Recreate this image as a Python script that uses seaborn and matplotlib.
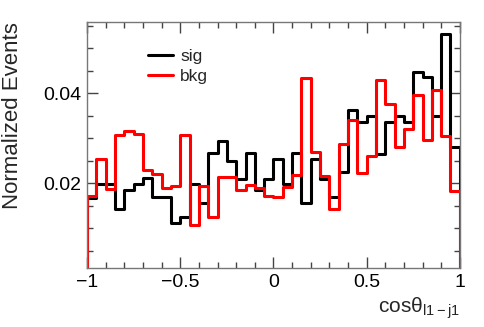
import numpy as np
import pandas as pd
import matplotlib
matplotlib.use('Agg')
import matplotlib.pyplot as plt
import seaborn as sns
from matplotlib.ticker import MultipleLocator

# 40 bins of cos(theta) between -1 and 1
bin_edges = np.linspace(-1, 1, 41)
bin_centers = 0.5 * (bin_edges[:-1] + bin_edges[1:])

sig = [0.0167, 0.0199, 0.0199, 0.0142, 0.0184, 0.0199, 0.0212, 0.0168, 0.0168, 0.0112,
       0.0125, 0.0198, 0.0155, 0.0267, 0.0293, 0.0250, 0.0210, 0.0267, 0.0184, 0.0210,
       0.0253, 0.0197, 0.0266, 0.0155, 0.0253, 0.0210, 0.0170, 0.0224, 0.0362, 0.0336,
       0.0349, 0.0264, 0.0336, 0.0349, 0.0336, 0.0447, 0.0435, 0.0349, 0.0531, 0.0281]

bkg = [0.0172, 0.0253, 0.0187, 0.0307, 0.0316, 0.0310, 0.0229, 0.0220, 0.0190, 0.0193,
       0.0307, 0.0107, 0.0193, 0.0124, 0.0213, 0.0213, 0.0184, 0.0196, 0.0190, 0.0172,
       0.0170, 0.0192, 0.0219, 0.0434, 0.0268, 0.0216, 0.0142, 0.0286, 0.0340, 0.0223,
       0.0260, 0.0430, 0.0375, 0.0281, 0.0319, 0.0396, 0.0296, 0.0407, 0.0304, 0.0182]

series = [('sig', sig, 'black'), ('bkg', bkg, '#ff0000')]

sns.set_style('ticks')
plt.rcParams['font.family'] = ['Liberation Sans', 'DejaVu Sans']
plt.rcParams['mathtext.fontset'] = 'custom'
plt.rcParams['mathtext.rm'] = 'Liberation Sans'
plt.rcParams['mathtext.it'] = 'Liberation Sans:italic'

fig, ax = plt.subplots(figsize=(4.84, 3.27), dpi=100)
fig.subplots_adjust(left=0.180, right=0.950, bottom=0.180, top=0.933)

for name, vals, col in series:
    df = pd.DataFrame({'x': bin_centers, 'w': vals})
    sns.histplot(data=df, x='x', weights='w', bins=list(bin_edges), element='step',
                 fill=False, color=col, linewidth=2.2, label=name, ax=ax)
    # ROOT-style drop to zero at both ends of the histogram
    ax.vlines([bin_edges[0], bin_edges[-1]], 0, [vals[0], vals[-1]],
              color=col, linewidth=2.2)

ax.set_xlim(-1, 1)
ax.set_ylim(0.0011, 0.0558)

ax.xaxis.set_major_locator(MultipleLocator(0.5))
ax.xaxis.set_minor_locator(MultipleLocator(0.1))
ax.yaxis.set_major_locator(MultipleLocator(0.02))
ax.yaxis.set_minor_locator(MultipleLocator(0.005))
ax.xaxis.set_major_formatter(plt.FuncFormatter(lambda v, p: f'{v:g}'.replace('-', '\u2212')))
ax.yaxis.set_major_formatter(plt.FuncFormatter(lambda v, p: f'{v:g}'))

ax.tick_params(which='both', direction='in', top=True, right=True,
               colors='#444444', labelcolor='black', labelsize=14, width=1)
ax.tick_params(which='major', length=8, pad=4)
ax.tick_params(which='minor', length=4)
for sp in ax.spines.values():
    sp.set_color('#777777')
    sp.set_linewidth(1)

ax.set_ylabel('Normalized Events', fontsize=16, loc='top')
ax.yaxis.set_label_coords(-0.172, 1.0)
ax.set_xlabel('cos\u03b8$_{\\mathregular{l1-j1}}$', fontsize=15, loc='right')
ax.xaxis.set_label_coords(1.0, -0.11)

ax.legend(loc='upper left', bbox_to_anchor=(0.164, 0.89), frameon=False,
          fontsize=12.5, handlelength=1.45, handletextpad=0.4,
          labelspacing=0.25, borderpad=0, borderaxespad=0)

plt.savefig('out.png', dpi=100)
plt.close()
